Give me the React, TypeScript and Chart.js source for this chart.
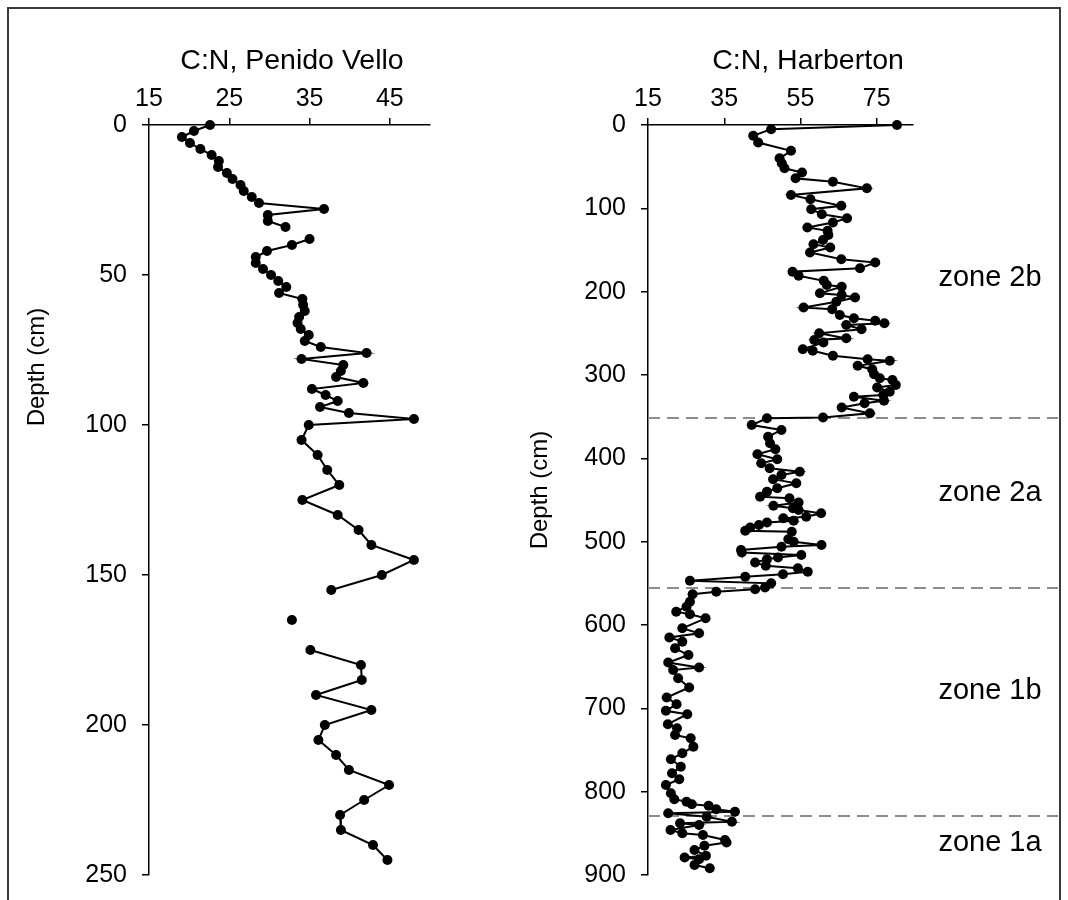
import React, { useEffect, useRef } from "react";
import { Chart, registerables } from "chart.js";
Chart.register(...registerables);

const FONT = "'Liberation Sans', Arial, Helvetica, sans-serif";

// ---------- Penido Vello ----------
const leftDepth = [
  0, 2, 4, 6, 8, 10, 12, 14, 16, 18, 20, 22, 24, 26, 28, 30, 32, 34, 36, 38,
  40, 42, 44, 46, 48, 50, 52, 54, 56, 58, 60, 62, 64, 66, 68, 70, 72, 74, 76, 78,
  80, 82, 84, 86, 88, 90, 92, 94, 96, 98, 100, 105, 110, 115, 120, 125, 130, 135, 140, 145,
  150, 155, 160, 165, 170, 175, 180, 185, 190, 195, 200, 205, 210, 215, 220, 225, 230, 235, 240, 245,
];
const leftCN = [
  22.6, 20.6, 19.1, 20.1, 21.4, 22.8, 23.7, 23.6, 24.7, 25.4, 26.4, 26.8, 27.8, 28.7, 36.8, 29.8, 29.8, 32.0, null, 35.0,
  32.8, 29.7, 28.3, 28.3, 29.2, 30.2, 31.1, 32.1, 31.2, 34.1, 34.2, 34.4, 33.7, 33.5, 33.9, 34.9, 34.4, 36.4, 42.1, 34.0,
  39.2, 38.9, 38.3, 41.7, 35.3, 37.0, 38.5, 36.3, 39.9, 48.0, 34.9, 34.0, 36.0, 37.2, 38.7, 34.1, 38.5, 41.1, 42.7, 48.0,
  44.0, 37.7, null, 32.8, null, 35.1, 41.4, 41.5, 35.8, 42.7, 36.9, 36.1, 38.3, 39.9, 44.9, 41.8, 38.8, 38.9, 42.9, 44.7,
];
const leftXTicks = [15, 25, 35, 45];
const leftYTicks = [0, 50, 100, 150, 200, 250];

// ---------- Harberton ----------
const rightDepth = [
  0, 5, 13, 21, 31, 40, 46, 52, 57, 64, 68, 76, 84, 89, 97, 101, 107, 112, 117, 123,
  127, 132, 138, 143, 147, 153, 161, 165, 172, 176, 181, 187, 192, 194, 202, 204, 207, 212, 219, 221,
  228, 232, 235, 238, 240, 245, 250, 256, 258, 261, 269, 271, 277, 281, 283, 289, 293, 299, 304, 306,
  312, 315, 320, 324, 326, 331, 334, 339, 346, 351, 352, 360, 366, 374, 382, 389, 395, 401, 406, 412,
  416, 420, 425, 430, 436, 440, 446, 448, 453, 457, 460, 462, 466, 470, 472, 475, 477, 480, 483, 487,
  488, 497, 500, 504, 506, 510, 513, 516, 519, 521, 525, 529, 532, 536, 539, 542, 547, 550, 555, 557,
  560, 563, 572, 578, 584, 587, 592, 604, 610, 615, 620, 628, 636, 645, 651, 654, 664, 675, 687, 695,
  703, 707, 719, 724, 732, 736, 746, 754, 761, 770, 778, 785, 792, 802, 809, 812, 815, 817, 821, 824,
  826, 830, 836, 838, 840, 846, 850, 852, 858, 861, 865, 870, 877, 879, 881, 888, 892,
];
const rightCN = [
  80.3, 47.3, 42.6, 43.9, 52.5, 49.5, 50.1, 50.8, 55.4, 53.7, 63.5, 72.4, 52.5, 57.6, 65.7, 57.8, 60.6, 67.2, 63.5, 56.8,
  62.1, 62.3, 60.9, 58.4, 62.8, 57.5, 65.7, 74.6, 70.6, 52.9, 54.5, 61.1, 61.9, 65.8, 60.1, 65.8, 69.3, 64.4, 55.8, 63.3,
  65.3, 69.0, 74.6, 77.0, 67.0, 71.0, 59.9, 67.0, 58.6, 61.0, 55.6, 58.2, 63.5, 72.6, 78.4, 70.0, 73.8, 74.3, 75.8, 79.1,
  80.0, 75.1, 78.4, 76.7, 69.0, 76.9, 71.8, 65.8, 73.2, 60.9, 46.2, 42.2, 50.0, 46.5, 47.0, 48.4, 43.7, 48.9, 44.7, 46.9,
  54.8, 50.0, 47.8, 53.9, 48.9, 46.2, 44.4, 52.1, 54.5, 47.9, 53.0, 54.5, 60.4, 56.5, 50.5, 53.2, 46.2, 44.1, 41.8, 40.5,
  52.7, 51.8, 53.2, 60.5, 50.0, 39.4, 39.6, 55.2, 49.1, 46.2, 43.1, 45.9, 54.3, 56.9, 50.4, 40.5, 26.0, 47.3, 45.7, 43.1,
  32.9, 26.7, 26.0, 25.1, 22.4, 26.0, 30.1, 24.0, 28.4, 20.6, 24.0, 22.1, 25.6, 20.3, 28.4, 21.6, 22.9, 25.8, 19.9, 22.5,
  19.7, 25.3, 20.2, 22.6, 22.1, 26.2, 26.9, 24.0, 21.0, 23.6, 21.3, 23.2, 19.7, 21.0, 21.9, 25.1, 26.5, 30.9, 32.9, 37.8,
  20.3, 30.4, 37.0, 23.4, 28.4, 20.9, 24.0, 29.4, 35.2, 35.6, 29.8, 27.2, 30.2, 24.6, 28.4, 27.2, 31.2,
];
const rightXTicks = [15, 35, 55, 75];
const rightYTicks = [0, 100, 200, 300, 400, 500, 600, 700, 800, 900];

const zoneBounds = [351, 555, 829];
const zoneNames = ["zone 2b", "zone 2a", "zone 1b", "zone 1a"];
const zoneDepths = [184, 442, 679, 862];

type PanelProps = {
  left: number;
  width: number;
  depth: number[];
  cn: (number | null)[];
  xTicks: number[];
  yTicks: number[];
  xMin: number;
  xMax: number;
  yMax: number;
  title: string;
  titleX: number;
  axisLeft: number;
  padRight: number;
  yTitleX: number;
  yTitleY: number;
  zones?: boolean;
  zoneX?: number;
  zoneLineEnd?: number;
};

const TICK_FONT = { family: FONT, size: 25 };
const TITLE_SIZE = 28.5;
const YTITLE_SIZE = 24;
const ZONE_SIZE = 29;

function Panel(p: PanelProps) {
  const ref = useRef<HTMLCanvasElement | null>(null);
  useEffect(() => {
    const canvas = ref.current;
    if (!canvas) return;
    const extras = {
      id: "extras",
      beforeDatasetsDraw(chart: any) {
        if (!p.zones) return;
        const ctx = chart.ctx;
        const ys = chart.scales.y;
        ctx.save();
        ctx.strokeStyle = "#8c8c8c";
        ctx.lineWidth = 2;
        ctx.setLineDash([12, 7]);
        zoneBounds.forEach((d) => {
          const y = Math.round(ys.getPixelForValue(d));
          ctx.beginPath();
          ctx.moveTo(chart.chartArea.left, y);
          ctx.lineTo(p.zoneLineEnd as number, y);
          ctx.stroke();
        });
        ctx.restore();
      },
      afterDraw(chart: any) {
        const ctx = chart.ctx;
        ctx.save();
        ctx.fillStyle = "#000";
        ctx.textAlign = "center";
        ctx.textBaseline = "middle";
        ctx.font = `${TITLE_SIZE}px ${FONT}`;
        ctx.fillText(p.title, p.titleX, 61);
        ctx.font = `${YTITLE_SIZE}px ${FONT}`;
        ctx.translate(p.yTitleX, p.yTitleY);
        ctx.rotate(-Math.PI / 2);
        ctx.fillText("Depth (cm)", 0, 0);
        ctx.restore();
        if (p.zones) {
          const ys = chart.scales.y;
          ctx.save();
          ctx.fillStyle = "#000";
          ctx.font = `${ZONE_SIZE}px ${FONT}`;
          ctx.textAlign = "center";
          ctx.textBaseline = "middle";
          zoneNames.forEach((n, i) => {
            ctx.fillText(n, p.zoneX as number, ys.getPixelForValue(zoneDepths[i]));
          });
          ctx.restore();
        }
      },
    };
    const chart = new Chart(canvas, {
      type: "scatter",
      data: {
        datasets: [
          {
            data: p.depth.map((d, i) => ({ x: p.cn[i], y: d })) as any,
            showLine: true,
            spanGaps: false,
            borderColor: "#000",
            borderWidth: 2,
            pointRadius: 5,
            pointBackgroundColor: "#000",
            pointBorderColor: "#000",
            pointBorderWidth: 0,
            clip: false as any,
          },
        ],
      },
      options: {
        animation: false,
        responsive: false,
        maintainAspectRatio: false,
        layout: { padding: { left: 0, top: 0, right: p.padRight, bottom: 25 } },
        plugins: { legend: { display: false }, tooltip: { enabled: false } },
        scales: {
          x: {
            type: "linear",
            position: "top",
            min: p.xMin,
            max: p.xMax,
            afterBuildTicks: (s: any) => {
              s.ticks = p.xTicks.map((v) => ({ value: v }));
            },
            afterFit: (s: any) => {
              s.height = 125;
              s.paddingLeft = 0;
              s.paddingRight = 0;
            },
            grid: { drawOnChartArea: false, drawTicks: true, tickLength: 7, color: "#000", lineWidth: 1.5 },
            border: { display: true, color: "#000", width: 1.5 },
            ticks: { color: "#000", font: TICK_FONT, padding: 4, maxRotation: 0, autoSkip: false },
            title: { display: false },
          },
          y: {
            type: "linear",
            reverse: true,
            min: 0,
            max: p.yMax,
            afterBuildTicks: (s: any) => {
              s.ticks = p.yTicks.map((v) => ({ value: v }));
            },
            afterFit: (s: any) => {
              s.width = p.axisLeft;
              s.paddingTop = 0;
              s.paddingBottom = 0;
            },
            grid: { drawOnChartArea: false, drawTicks: true, tickLength: 7, color: "#000", lineWidth: 1.5 },
            border: { display: true, color: "#000", width: 1.5 },
            ticks: { color: "#000", font: TICK_FONT, padding: 15, autoSkip: false },
          },
        },
      },
      plugins: [extras],
    });
    return () => chart.destroy();
  }, []);
  return (
    <canvas
      ref={ref}
      width={p.width}
      height={900}
      style={{ position: "absolute", left: p.left, top: 0, width: p.width, height: 900 }}
    />
  );
}

export default function App() {
  return (
    <div style={{ position: "absolute", left: 0, top: 0, width: 1068, height: 900, background: "#fff", overflow: "hidden" }}>
      <div
        style={{
          position: "absolute",
          left: 7,
          top: 7,
          width: 1054,
          height: 893,
          boxSizing: "border-box",
          borderTop: "2px solid #3a3a3a",
          borderLeft: "2px solid #3a3a3a",
          borderRight: "2px solid #3a3a3a",
        }}
      />
      <Panel
        left={0}
        width={534}
        depth={leftDepth}
        cn={leftCN}
        xTicks={leftXTicks}
        yTicks={leftYTicks}
        xMin={15}
        xMax={50}
        yMax={250}
        title="C:N, Penido Vello"
        titleX={292}
        axisLeft={149}
        padRight={104}
        yTitleX={37}
        yTitleY={367}
      />
      <Panel
        left={510}
        width={558}
        depth={rightDepth}
        cn={rightCN}
        xTicks={rightXTicks}
        yTicks={rightYTicks}
        xMin={15}
        xMax={84.5}
        yMax={900}
        title="C:N, Harberton"
        titleX={298}
        axisLeft={138}
        padRight={155}
        yTitleX={30}
        yTitleY={490}
        zones
        zoneX={480}
        zoneLineEnd={548}
      />
    </div>
  );
}
